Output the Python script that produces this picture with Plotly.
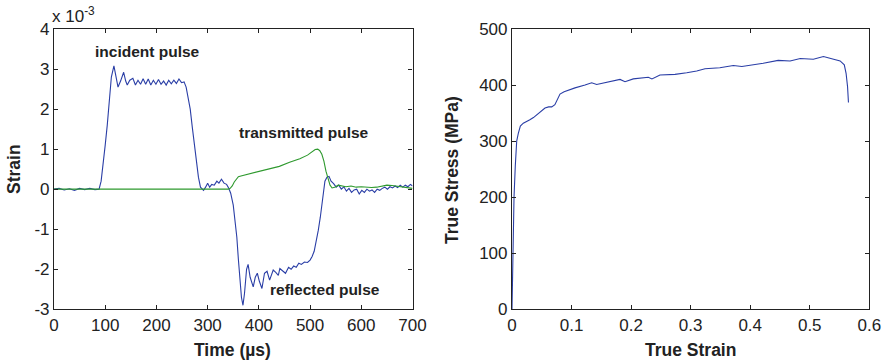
import plotly.graph_objects as go

# ---------------- data ----------------
# Left panel: strain gauge signals (values in units of 1e-3)
time_blue = [0, 10, 20, 30, 40, 50, 60, 70, 80, 88, 92, 96, 100, 104, 108, 112, 117, 121, 125, 130,
             136, 140, 143, 148, 154, 159, 164, 169, 174, 179, 184, 189, 194, 199, 204, 209, 214, 219,
             224, 229, 234, 239, 244, 249, 254, 258, 262, 266, 270, 274, 278, 282, 286, 292, 296, 300,
             304, 308, 313, 318, 322, 327, 332, 337, 341, 345, 350, 354, 357, 360, 363, 366, 369, 372,
             376, 379, 383, 389, 393, 397, 401, 406, 411, 416, 421, 428, 433, 438, 441, 447, 452, 458,
             463, 468, 473, 478, 483, 489, 495, 500, 504, 508, 512, 516, 520, 523, 526, 529, 533, 537,
             541, 546, 551, 556, 561, 566, 571, 576, 581, 586, 591, 596, 601, 606, 611, 616, 621, 626,
             631, 636, 641, 646, 651, 656, 661, 666, 671, 676, 681, 686, 691, 696, 700]
strain_blue = [0.0, 0.02, -0.02, 0.01, -0.03, 0.02, -0.01, 0.02, -0.01, 0.0, 0.2, 0.6, 1.1, 1.6, 2.2, 2.8,
               3.08, 2.85, 2.55, 2.7, 2.92, 2.7, 2.6, 2.72, 2.77, 2.6, 2.72, 2.62, 2.76, 2.62, 2.75, 2.6,
               2.72, 2.62, 2.74, 2.62, 2.7, 2.6, 2.72, 2.63, 2.72, 2.64, 2.75, 2.66, 2.68, 2.55, 2.3, 2.0,
               1.55, 1.1, 0.7, 0.3, 0.05, -0.03, 0.05, 0.15, 0.05, 0.12, 0.1, 0.2, 0.15, 0.25, 0.15, 0.12,
               0.03, -0.1, -0.4, -0.85, -1.2, -1.75, -2.3, -2.7, -2.9, -2.6, -2.0, -1.88, -2.2, -2.44,
               -2.2, -2.1, -2.3, -2.48, -2.1, -2.05, -2.27, -2.02, -2.08, -2.15, -1.98, -2.05, -2.1, -1.95,
               -2.0, -1.92, -1.95, -1.85, -1.88, -1.82, -1.83, -1.77, -1.68, -1.55, -1.3, -1.03, -0.7,
               -0.36, -0.05, 0.2, 0.3, 0.32, 0.2, 0.14, 0.05, 0.1, 0.0, 0.06, -0.05, 0.02, -0.08, -0.02,
               0.0, -0.12, -0.03, -0.08, 0.0, -0.05, -0.02, -0.08, 0.0, -0.03, 0.02, 0.05, 0.0, 0.06,
               0.03, 0.08, 0.04, 0.1, 0.05, 0.1, 0.06, 0.12, 0.08]

time_green = [0, 50, 100, 150, 200, 250, 300, 340, 344, 348, 352, 356, 360, 365, 380, 400, 420, 440,
              460, 480, 495, 505, 510, 515, 519, 523, 527, 531, 535, 539, 543, 548, 555, 562, 570, 580,
              590, 600, 610, 620, 630, 640, 650, 660, 670, 680, 690, 700]
strain_green = [0.0, 0.0, 0.0, 0.0, 0.0, 0.0, 0.0, 0.0, 0.02, 0.08, 0.18, 0.26, 0.31, 0.33, 0.38, 0.44,
                0.5, 0.57, 0.67, 0.76, 0.85, 0.95, 0.99, 1.0, 0.96, 0.87, 0.7, 0.45, 0.25, 0.1, 0.03,
                0.05, 0.1, 0.08, 0.06, 0.08, 0.05, 0.06, 0.05, 0.04, 0.05, 0.08, 0.1, 0.09, 0.07, 0.05,
                0.03, 0.02]

# Right panel: true stress-strain curve
true_strain = [0, 0.0005, 0.0011, 0.002, 0.0034, 0.0055, 0.0079, 0.0106, 0.014, 0.019, 0.025, 0.030,
               0.036, 0.0415, 0.048, 0.0554, 0.0615, 0.0667, 0.072, 0.0765, 0.0806, 0.0875, 0.0945,
               0.1058, 0.1226, 0.1338, 0.1422, 0.1617, 0.1814, 0.1898, 0.2037, 0.2289, 0.235, 0.2485,
               0.2737, 0.2934, 0.3102, 0.3241, 0.349, 0.3717, 0.386, 0.422, 0.447, 0.467, 0.484, 0.506,
               0.523, 0.537, 0.551, 0.558, 0.561, 0.5635, 0.565]
true_stress = [0, 40, 100, 150, 200, 255, 300, 314, 327, 332, 335, 338, 342, 347, 353, 359, 361, 361,
               365, 375, 384, 388, 391, 395, 400, 404, 401, 405, 410, 406, 411, 414, 411, 418, 419, 422,
               425, 429, 431, 435, 433, 439, 444, 443, 447.5, 446, 451, 447, 443, 436, 421, 397, 369]

# tick labels
left_x_ticks = [0, 100, 200, 300, 400, 500, 600, 700]
left_x_labels = ["0", "100", "200", "300", "400", "500", "600", "700"]
left_y_ticks = [-3, -2, -1, 0, 1, 2, 3, 4]
left_y_labels = ["-3", "-2", "-1", "0", "1", "2", "3", "4"]
right_x_ticks = [0, 0.1, 0.2, 0.3, 0.4, 0.5, 0.6]
right_x_labels = ["0", "0.1", "0.2", "0.3", "0.4", "0.5", "0.6"]
right_y_ticks = [0, 100, 200, 300, 400, 500]
right_y_labels = ["0", "100", "200", "300", "400", "500"]

BLUE = "#2a3ea6"
GREEN = "#2e992e"
INK = "#222222"
FONT = "Liberation Sans, Arial, sans-serif"
W, H = 888, 363

fig = go.Figure()
fig.add_trace(go.Scatter(x=time_blue, y=strain_blue, mode="lines",
                         line=dict(color=BLUE, width=1.1), xaxis="x", yaxis="y"))
fig.add_trace(go.Scatter(x=time_green, y=strain_green, mode="lines",
                         line=dict(color=GREEN, width=1.1), xaxis="x", yaxis="y"))
fig.add_trace(go.Scatter(x=true_strain, y=true_stress, mode="lines",
                         line=dict(color=BLUE, width=1.1), xaxis="x2", yaxis="y2"))

def ax(dom, rng, tv, tt, anchor):
    return dict(domain=dom, range=rng, tickvals=tv, ticktext=tt, anchor=anchor,
                showline=True, linecolor=INK, linewidth=1.2, mirror="ticks",
                ticks="inside", ticklen=4, tickcolor=INK, tickwidth=1,
                showgrid=False, zeroline=False, fixedrange=True, automargin=False,
                tickfont=dict(family=FONT, size=17, color=INK))

ydom = [1 - 309.3 / H, 1 - 29 / H]
fig.update_layout(
    template="none",
    width=W, height=H, margin=dict(l=0, r=0, t=0, b=0, pad=0, autoexpand=False),
    paper_bgcolor="white", plot_bgcolor="white", showlegend=False,
    xaxis=ax([54 / W, 412.5 / W], [0, 700], left_x_ticks, left_x_labels, "y"),
    yaxis=ax(ydom, [-3, 4], left_y_ticks, left_y_labels, "x"),
    xaxis2=ax([512 / W, 869.3 / W], [0, 0.6], right_x_ticks, right_x_labels, "y2"),
    yaxis2=ax(ydom, [0, 500], right_y_ticks, right_y_labels, "x2"),
)

bold = dict(family=FONT, size=17.5, color=INK)
ann_font = dict(family=FONT, size=15.5, color=INK)
annotations = [
    dict(text="<b>Strain</b>", x=14 / W, y=1 - 169 / H, textangle=-90, font=bold),
    dict(text="<b>Time (µs)</b>", x=232.5 / W, y=1 - 350 / H, font=bold),
    dict(text="<b>True Stress (MPa)</b>", x=452 / W, y=1 - 170 / H, textangle=-90, font=bold),
    dict(text="<b>True Strain</b>", x=690 / W, y=1 - 350 / H, font=bold),
    dict(text="x 10<sup>-3</sup>", x=50 / W, y=1 - 15 / H, xanchor="left",
         font=dict(family=FONT, size=17, color=INK)),
]
for a in annotations:
    a.update(xref="paper", yref="paper", showarrow=False)
    a.setdefault("xanchor", "center")
    a["yanchor"] = "middle"

annotations += [
    dict(text="<b>incident pulse</b>", x=182.6, y=3.45, xref="x", yref="y", showarrow=False, font=ann_font),
    dict(text="<b>transmitted pulse</b>", x=488, y=1.42, xref="x", yref="y", showarrow=False, font=ann_font),
    dict(text="<b>reflected pulse</b>", x=529, y=-2.5, xref="x", yref="y", showarrow=False, font=ann_font),
]
fig.update_layout(annotations=annotations)

fig.write_html("out.html")
